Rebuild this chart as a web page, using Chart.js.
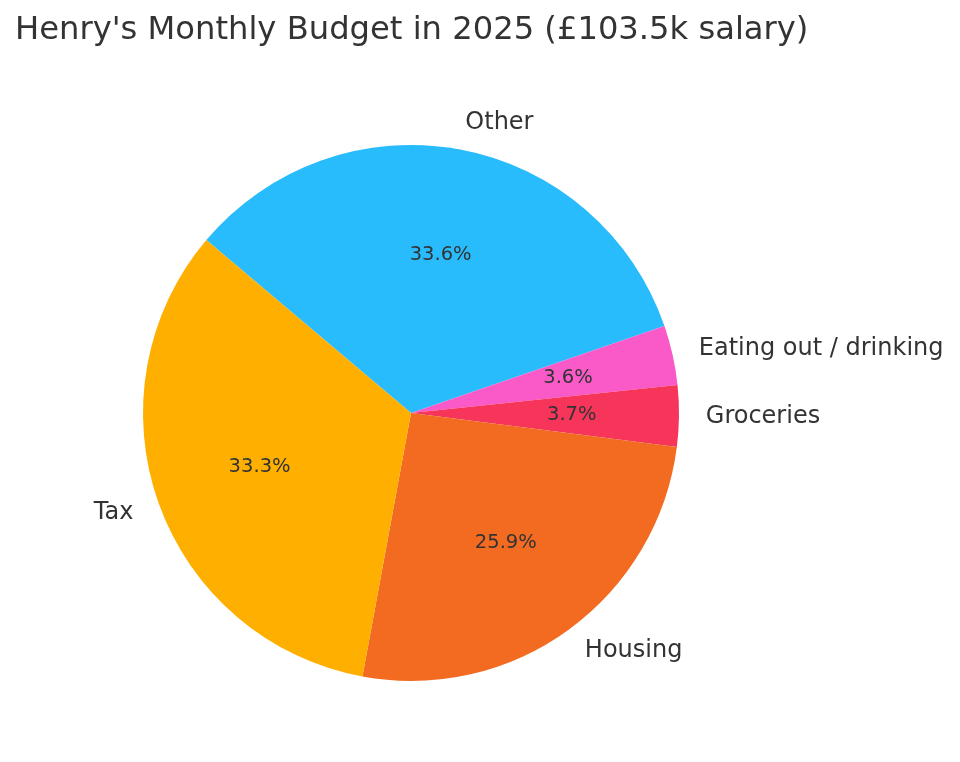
<!DOCTYPE html>
<html>
<head>
<meta charset="utf-8">
<title>Henry's Monthly Budget</title>
<script src="https://cdn.jsdelivr.net/npm/chart.js@4"></script>
<style>
    html, body { margin: 0; padding: 0; background: #fff; }
    #wrap { width: 960px; height: 762px; }
</style>
</head>
<body>
<div id="wrap"><canvas id="graficoPizza" width="960" height="762"></canvas></div>
<script>
// categorias, em sentido horário a partir de "Other"
const categorias = ['Other', 'Eating out / drinking', 'Groceries', 'Housing', 'Tax'];
const percentuais = [33.6, 3.6, 3.7, 25.9, 33.3];
const cores = ['#29BCFC', '#F95AC7', '#F7345A', '#F26B21', '#FFAF00'];
const titulo = "Henry's Monthly Budget in 2025 (£103.5k salary)";

const corTexto = '#333333';

// desenha titulo, rotulos externos e percentuais (estilo matplotlib)
const rotulosPizza = {
    id: 'rotulosPizza',
    afterDatasetsDraw(chart) {
        const ctx = chart.ctx;
        const meta = chart.getDatasetMeta(0);
        const total = percentuais.reduce((a, b) => a + b, 0);

        ctx.save();
        ctx.fillStyle = corTexto;
        ctx.textBaseline = 'alphabetic';
        ctx.textAlign = 'left';
        ctx.font = '32.2px "DejaVu Sans"';
        ctx.fillText(titulo, 15, 39);

        meta.data.forEach((arco, i) => {
            const p = arco.getProps(['x', 'y', 'startAngle', 'endAngle', 'outerRadius'], true);
            const meio = (p.startAngle + p.endAngle) / 2;
            const cx = Math.cos(meio), cy = Math.sin(meio);

            // percentual dentro da fatia
            ctx.font = '19.5px "DejaVu Sans"';
            ctx.textAlign = 'center';
            ctx.textBaseline = 'middle';
            const pct = (percentuais[i] / total * 100).toFixed(1) + '%';
            ctx.fillText(pct, p.x + cx * p.outerRadius * 0.6, p.y + cy * p.outerRadius * 0.6);

            // nome da categoria fora da fatia
            ctx.font = '24px "DejaVu Sans"';
            ctx.textAlign = cx >= 0 ? 'left' : 'right';
            ctx.fillText(categorias[i], p.x + cx * p.outerRadius * 1.1, p.y + cy * p.outerRadius * 1.1);
        });
        ctx.restore();
    }
};

function criarGrafico() {
    const graficoPizza = document.getElementById('graficoPizza');

    new Chart(graficoPizza, {
        type: 'pie',
        data: {
            labels: categorias,
            datasets: [{
                data: percentuais,
                backgroundColor: cores,
                borderWidth: 0
            }]
        },
        options: {
            responsive: false,
            animation: false,
            rotation: -49.8,
            layout: {
                padding: { left: 143, right: 281, top: 145, bottom: 81 }
            },
            plugins: {
                legend: { display: false },
                title: { display: false },
                tooltip: { enabled: false }
            }
        },
        plugins: [rotulosPizza]
    });
}

window.onload = function () {
    criarGrafico();
};
</script>
</body>
</html>
